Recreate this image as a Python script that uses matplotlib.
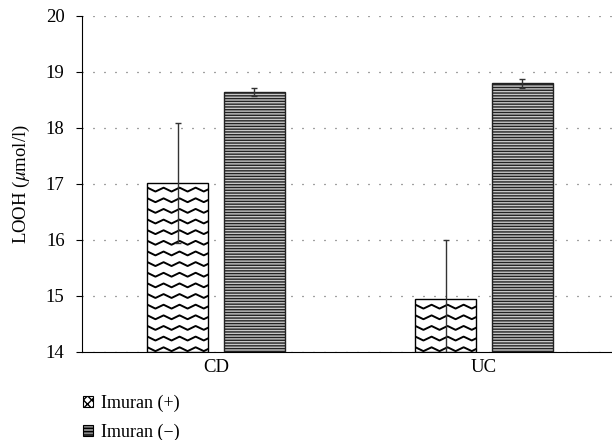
import matplotlib
matplotlib.use("Agg")
import matplotlib.pyplot as plt
import numpy as np
from matplotlib.patches import Patch

plt.rcParams['font.family'] = ['Liberation Serif', 'DejaVu Serif']
plt.rcParams['mathtext.fontset'] = 'stix'
plt.rcParams['font.size'] = 13.5
plt.rcParams['hatch.linewidth'] = 1.0

# data
groups = ['CD', 'UC']
series = ['Imuran (+)', 'Imuran (\u2212)']
imuran_pos = [17.02, 14.95]
imuran_pos_err = [1.07, 1.05]
imuran_neg = [18.65, 18.80]
imuran_neg_err = [0.07, 0.08]

fig = plt.figure(figsize=(6.12, 4.4), dpi=100)
ax = fig.add_axes([82/612, 1-352/440, 536/612, 336/440])

x = np.arange(len(groups))
w = 0.228
off = 0.142

bars_pos = ax.bar(x - off, np.array(imuran_pos) - 14, w, bottom=14,
                  facecolor='white', edgecolor='black', linewidth=1.0, zorder=2)
bars_neg = ax.bar(x + off, np.array(imuran_neg) - 14, w, bottom=14,
                  facecolor='#c8c8c8', edgecolor='#222222', hatch='------',
                  linewidth=1.0, zorder=2)

# wavy fill for Imuran (+) bars, clipped to each bar
for b in bars_pos:
    x0, x1 = b.get_x(), b.get_x() + b.get_width()
    xs = np.linspace(x0 - 0.05, x1 + 0.05, 200)
    wave = 0.035 * np.abs(((xs - x0) / 0.06) % 1.0 - 0.5) * 4 - 0.035
    yy = 14.05
    while yy < b.get_y() + b.get_height() + 0.2:
        ln, = ax.plot(xs, yy + wave, color='black', lw=1.4, zorder=3,
                      solid_joinstyle='round')
        ln.set_clip_path(b)
        yy += 0.19

ax.errorbar(x - off, imuran_pos, yerr=imuran_pos_err, fmt='none',
            ecolor='#333333', elinewidth=1.0, capsize=2, zorder=4)
ax.errorbar(x + off, imuran_neg, yerr=imuran_neg_err, fmt='none',
            ecolor='#333333', elinewidth=1.0, capsize=2.5, zorder=4)

ax.set_ylim(14, 20)
ax.set_xlim(-0.5, 1.5)
ax.set_yticks(range(14, 21))
ax.set_xticks(x)
ax.set_xticklabels(groups)
ax.tick_params(axis='x', length=0, pad=5)
ax.tick_params(axis='y', length=4, direction='out', pad=8.5)
ax.yaxis.grid(True, color='#444444', linestyle=(0, (0.8, 8)), linewidth=0.9)
ax.set_axisbelow(True)
for s in ['top', 'right']:
    ax.spines[s].set_visible(False)
ax.set_ylabel(r'LOOH ($\mu$mol/l)', labelpad=10)

handles = [Patch(facecolor='white', edgecolor='black', hatch='xxxx', linewidth=0.8),
           Patch(facecolor='#888888', edgecolor='black', hatch='-----', linewidth=0.8)]
fig.legend(handles, series, loc='upper left', bbox_to_anchor=(83/612, 1-395/440),
           frameon=False, handlelength=0.55, handleheight=0.55, handletextpad=0.45,
           labelspacing=0.62, borderpad=0, borderaxespad=0, fontsize=13)

fig.savefig('out.png', dpi=100)
